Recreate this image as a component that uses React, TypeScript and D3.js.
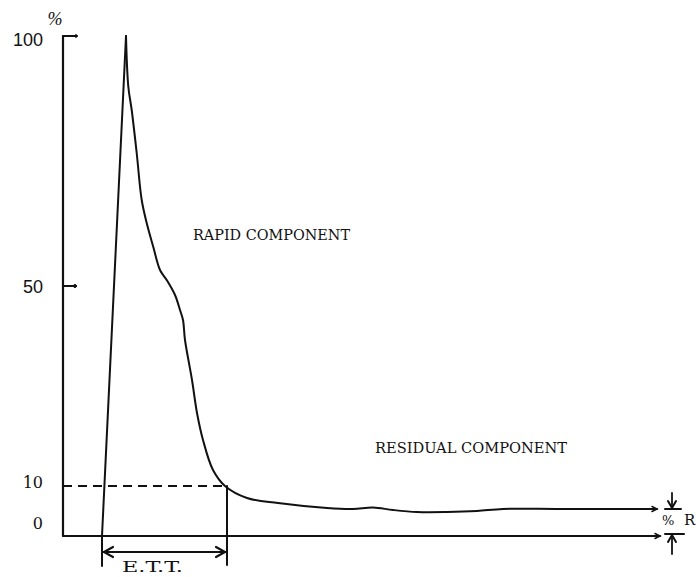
import * as d3 from "d3";

// time axis units (arbitrary), percent of peak
const riseTime = [39, 63];
const risePct = [0, 100];

const decayTime = [63, 65.3, 68.7, 73.7, 78.7, 83.7, 90.3, 97, 103.7, 112, 117, 120, 122, 129, 134, 140, 150, 162, 184, 215, 264, 290, 310, 330, 354, 384, 414, 440, 497, 594];
const decayPct = [100, 89.9, 85.2, 76.6, 67.2, 62.6, 57.8, 53.2, 51.2, 48.2, 45.2, 43.2, 39.2, 31.2, 24.6, 19.2, 13.2, 10.0, 7.6, 6.6, 5.6, 5.4, 5.7, 5.2, 4.8, 4.8, 5.0, 5.4, 5.4, 5.4];

const yTicks = [0, 10, 50, 100];
const yTickLabels = ["0", "10", "50", "100"];
const ettStart = 39;
const ettEnd = 164;
const ettLevel = 10;
const residualLevel = 5.4;
const xMax = 597;

export default function App() {
  const width = 696;
  const height = 577;
  const x = d3.scaleLinear().domain([0, 600]).range([63, 663]);
  const y = d3.scaleLinear().domain([0, 100]).range([536, 36]);

  const rise = d3
    .line<number>()
    .x((d) => x(d))
    .y((_, i) => y(risePct[i]));
  const decay = d3
    .line<number>()
    .x((d) => x(d))
    .y((_, i) => y(decayPct[i]))
    .curve(d3.curveCatmullRom.alpha(0.5));

  const ink = "#111";
  const type = "'DejaVu Serif', 'Liberation Serif', serif";
  const sans = "'Liberation Sans', Arial, sans-serif";

  // label vertical nudges like the original lettering
  const labelDy: Record<string, number> = { "0": -13, "10": -4, "50": 1, "100": 4 };
  const labelFont: Record<string, string> = { "0": type, "10": type, "50": sans, "100": sans };

  const x0 = x(0);
  const y0 = y(0);
  const xs = x(ettStart);
  const xe = x(ettEnd);
  const yArrow = 552;
  const xR = 672;
  const yRes = y(residualLevel);
  const xEnd = x(decayTime[decayTime.length - 1]);

  return (
    <svg
      width={width}
      height={height}
      style={{ position: "absolute", left: 0, top: 0, background: "#fff" }}
    >
      <g stroke={ink} fill="none" strokeLinecap="round">
        {/* axes */}
        <line x1={x0} y1={y(100)} x2={x0} y2={y0} strokeWidth={2.2} />
        <line x1={x0} y1={y0} x2={x(xMax)} y2={y0} strokeWidth={2.2} />
        <path d={`M${x(xMax) - 5},${y0 - 2.5} L${x(xMax)},${y0} L${x(xMax) - 5},${y0 + 2.5}`} strokeWidth={1.5} />
        {/* ticks pointing inward */}
        <line x1={x0} y1={y(100)} x2={x0 + 13} y2={y(100)} strokeWidth={2} />
        <line x1={x0} y1={y(50)} x2={x0 + 12} y2={y(50)} strokeWidth={2} />
        <circle cx={x0 + 12} cy={y(50)} r={1.5} fill={ink} />
        <circle cx={x0 + 13} cy={y(100)} r={1.3} fill={ink} />

        {/* curve */}
        <path d={rise(riseTime) ?? ""} strokeWidth={2} strokeLinejoin="miter" />
        <path d={decay(decayTime) ?? ""} strokeWidth={2} />
        <path d={`M${xEnd - 5},${yRes - 2.5} L${xEnd},${yRes} L${xEnd - 5},${yRes + 2.5}`} strokeWidth={1.5} />

        {/* 10% dashed level */}
        <line x1={x0} y1={y(ettLevel)} x2={xe} y2={y(ettLevel)} strokeWidth={2.2} strokeDasharray="9 6" strokeLinecap="butt" />

        {/* E.T.T. dimension */}
        <line x1={xs} y1={y0} x2={xs} y2={566} strokeWidth={2} />
        <line x1={xe} y1={y(ettLevel)} x2={xe} y2={565} strokeWidth={2} />
        <line x1={xs} y1={yArrow} x2={xe} y2={yArrow} strokeWidth={2} />
        <path d={`M${xs + 11},${yArrow - 5} L${xs + 2},${yArrow} L${xs + 11},${yArrow + 5}`} strokeWidth={2.2} />
        <path d={`M${xe - 11},${yArrow - 5} L${xe - 2},${yArrow} L${xe - 11},${yArrow + 5}`} strokeWidth={2.2} />

        {/* % R marker */}
        <line x1={665} y1={yRes} x2={681} y2={yRes} strokeWidth={2} />
        <line x1={xR} y1={yRes - 16} x2={xR} y2={yRes - 1} strokeWidth={1.8} />
        <path d={`M${xR - 4},${yRes - 8} L${xR},${yRes - 1} L${xR + 4},${yRes - 8}`} strokeWidth={2} />
        <line x1={665} y1={y0 - 2} x2={684} y2={y0 - 2} strokeWidth={2} />
        <line x1={xR} y1={y0 - 1} x2={xR} y2={y0 + 18} strokeWidth={1.8} />
        <path d={`M${xR - 4},${y0 + 6} L${xR},${y0 - 1} L${xR + 4},${y0 + 6}`} strokeWidth={2} />
      </g>

      <g fill={ink}>
        {yTicks.map((t, i) => (
          <text
            key={t}
            x={43}
            y={y(t) + labelDy[yTickLabels[i]]}
            textAnchor="end"
            dominantBaseline="central"
            fontFamily={labelFont[yTickLabels[i]]}
            fontSize={t >= 50 ? 18 : 16}
          >
            {yTickLabels[i]}
          </text>
        ))}
        <text x={55} y={25} textAnchor="middle" fontFamily="'Liberation Serif', serif" fontStyle="italic" fontSize={18}>
          %
        </text>
        <text x={193} y={240} fontFamily={type} fontSize={15} textLength={157} lengthAdjust="spacingAndGlyphs">
          RAPID COMPONENT
        </text>
        <text x={375} y={453} fontFamily={type} fontSize={15} textLength={192} lengthAdjust="spacingAndGlyphs">
          RESIDUAL COMPONENT
        </text>
        <text x={122} y={572} fontFamily={type} fontSize={15} textLength={61} lengthAdjust="spacingAndGlyphs">
          E.T.T.
        </text>
        <text x={662} y={525} fontFamily={type} fontSize={13}>
          %
        </text>
        <text x={684} y={525} fontFamily={type} fontSize={15}>
          R
        </text>
      </g>
    </svg>
  );
}
